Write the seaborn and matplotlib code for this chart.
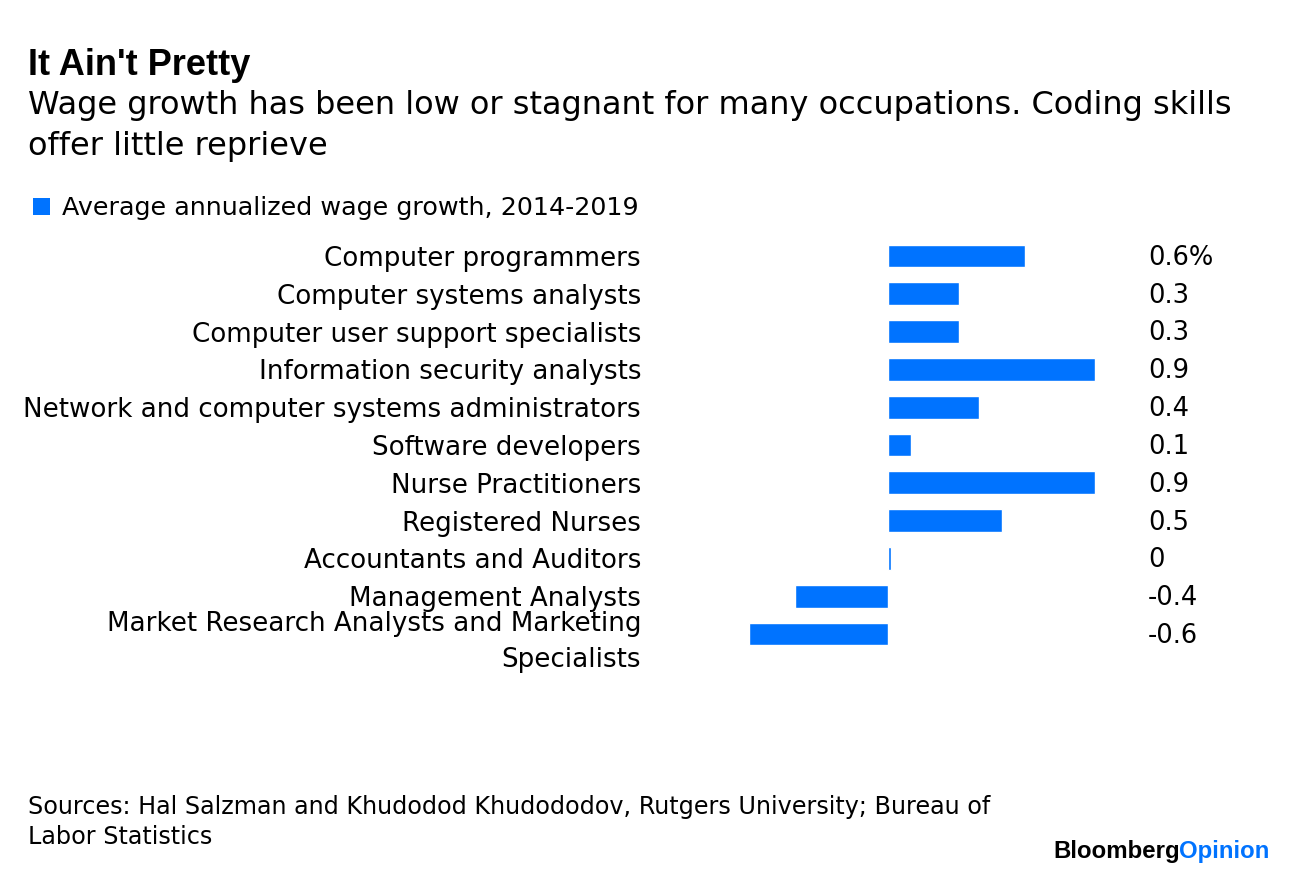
import matplotlib
matplotlib.use("Agg")
import matplotlib.pyplot as plt
import matplotlib.transforms as mtransforms
from matplotlib.patches import Rectangle
import seaborn as sns
import pandas as pd

occupations = [
    "Computer programmers",
    "Computer systems analysts",
    "Computer user support specialists",
    "Information security analysts",
    "Network and computer systems administrators",
    "Software developers",
    "Nurse Practitioners",
    "Registered Nurses",
    "Accountants and Auditors",
    "Management Analysts",
    "Market Research Analysts and Marketing\nSpecialists",
]
growth = [0.6, 0.31, 0.31, 0.91, 0.4, 0.1, 0.91, 0.5, 0.015, -0.41, -0.61]
value_labels = ["0.6%", "0.3", "0.3", "0.9", "0.4", "0.1", "0.9", "0.5", "0", "-0.4", "-0.6"]

title = "It Ain't Pretty"
subtitle_1 = "Wage growth has been low or stagnant for many occupations. Coding skills"
subtitle_2 = "offer little reprieve"
legend_label = "Average annualized wage growth, 2014-2019"
source_1 = "Sources: Hal Salzman and Khudodod Khudododov, Rutgers University; Bureau of"
source_2 = "Labor Statistics"

BLUE = "#0073FF"
W, H = 1296, 876

sns.set_style("white")
plt.rcParams["font.family"] = ["DejaVu Sans"]
plt.rcParams["text.color"] = "black"
plt.rcParams["ytick.color"] = "black"
BOLD = ["Liberation Sans", "DejaVu Sans"]

df = pd.DataFrame({"occupation": occupations, "growth": growth})

fig = plt.figure(figsize=(W / 100, H / 100), dpi=100)
# axes placed in pixel terms: zero line at x=888, rows from y=256 to 634
ax_left, ax_right = 648, 1130
ax_top, ax_bottom = 237, 653
ax = fig.add_axes([ax_left / W, 1 - ax_bottom / H, (ax_right - ax_left) / W, (ax_bottom - ax_top) / H])

sns.barplot(data=df, y="occupation", x="growth", orient="h", color=BLUE,
            saturation=1, width=0.6, ax=ax)

px_per_unit = 228
ax.set_xlim((ax_left - 888) / px_per_unit, (ax_right - 888) / px_per_unit)
ax.set_ylim(len(occupations) - 0.5, -0.5)
ax.set_xlabel("")
ax.set_ylabel("")
ax.set_xticks([])
for s in ax.spines.values():
    s.set_visible(False)
ax.tick_params(axis="y", length=0, pad=5, labelsize=18.8)
for lbl in ax.get_yticklabels():
    lbl.set_linespacing(1.5)

trans = mtransforms.blended_transform_factory(fig.transFigure, ax.transData)
for i, t in enumerate(value_labels):
    ax.text(1148 / W, i + 0.05, t, transform=trans, ha="left", va="center", fontsize=18.5)

def fy(px):
    return 1 - px / H

fig.text(28 / W, fy(75), title, fontsize=26, fontweight="bold", va="baseline", family=BOLD)
fig.text(28 / W, fy(114), subtitle_1, fontsize=23, va="baseline")
fig.text(28 / W, fy(155), subtitle_2, fontsize=23, va="baseline")

fig.patches.append(Rectangle((33 / W, fy(215)), 17 / W, 17 / H, transform=fig.transFigure,
                             facecolor=BLUE, edgecolor="none"))
fig.text(62 / W, fy(215), legend_label, fontsize=18.25, va="baseline")

fig.text(28 / W, fy(814), source_1, fontsize=17.2, va="baseline")
fig.text(28 / W, fy(844), source_2, fontsize=17.2, va="baseline")

t1 = fig.text(1053 / W, fy(858), "Bloomberg", fontsize=17.3, fontweight="bold", va="baseline",
              color="black", family=BOLD)
fig.canvas.draw()
bb = t1.get_window_extent()
fig.text((bb.x1 - 1) / W, fy(858), "Opinion", fontsize=17.3, fontweight="bold", va="baseline",
         color=BLUE, family=BOLD)

fig.savefig("out.png", dpi=100)
